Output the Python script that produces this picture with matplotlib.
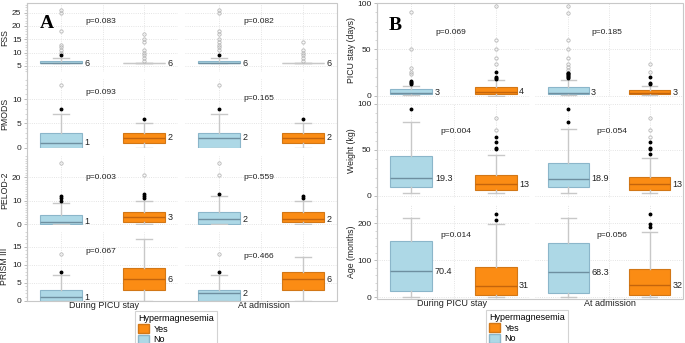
import numpy as np
import matplotlib
matplotlib.use('Agg')
import matplotlib.pyplot as plt
from matplotlib.patches import Patch, Rectangle
from matplotlib.ticker import MultipleLocator

plt.rcParams['font.family'] = ['Liberation Sans', 'DejaVu Sans']

groups = ['During PICU stay', 'At admission']
legend_labels = ['Yes', 'No']

# order of boxes in every row: stay/No, stay/Yes, admission/No, admission/Yes
# each box: (whislo, q1, med, q3, whishi)
fss_box = [(6, 6, 6, 7, 8), (6, 6, 6, 6, 6), (6, 6, 6, 7, 8), (6, 6, 6, 6, 6)]
fss_near = [[9], [], [9], []]
fss_far = [[10, 11, 12, 13, 18, 25, 26], [7, 8, 9, 10, 11, 14, 15, 17],
           [11, 12, 13, 14, 15, 17, 18, 25, 26], [7, 8, 9, 10, 11, 14]]
fss_lbl = ['6', '6', '6', '6']
fss_p = ['p=0.083', 'p=0.082']

pmods_box = [(0, 0, 1, 3, 7), (0, 1, 2, 3, 5), (0, 0, 2, 3, 7), (0, 1, 2, 3, 5)]
pmods_near = [[8], [6], [8], [6]]
pmods_far = [[13], [], [13], []]
pmods_lbl = ['1', '2', '2', '2']
pmods_p = ['p=0.093', 'p=0.165']

pelod_box = [(0, 0, 1, 4, 9), (0, 1, 3, 5, 10), (0, 0, 2, 5, 12), (0, 1, 2, 5, 10)]
pelod_near = [[10, 11, 12], [11, 12, 13], [13], [11, 12]]
pelod_far = [[26], [21], [21, 26], []]
pelod_lbl = ['1', '3', '2', '2']
pelod_p = ['p=0.003', 'p=0.559']

prism_box = [(0, 0, 1, 3, 7), (0, 3, 6, 9, 17), (0, 0, 2, 3, 7), (0, 3, 6, 8, 12)]
prism_near = [[8], [], [8], []]
prism_far = [[13], [], [13], []]
prism_lbl = ['1', '6', '2', '6']
prism_p = ['p=0.067', 'p=0.466']

stay_box = [(1, 2, 3, 7, 11), (0, 2, 4, 9, 17), (1, 2, 3, 9, 17), (1, 2, 3, 6, 10)]
stay_near = [[13, 14, 15, 16], [18, 19, 20, 26], [19, 20, 21, 22, 23, 24, 25], [13, 14, 20]]
stay_far = [[23, 26, 30, 50, 90], [34, 41, 50, 60, 97], [28, 31, 34, 41, 50, 60, 89, 97], [26, 34]]
stay_lbl = ['3', '4', '3', '3']
stay_p = ['p=0.069', 'p=0.185']

weight_box = [(3, 10, 19.3, 44, 80), (3, 7, 13, 22.5, 45), (3, 9.5, 18.9, 36, 73), (3, 7, 13, 21, 41)]
weight_near = [[95], [51, 52, 59, 64], [80, 95], [46, 51, 52, 59]]
weight_far = [[], [72, 85], [], [64, 72, 85]]
weight_lbl = ['19.3', '13', '18.9', '13']
weight_p = ['p=0.004', 'p=0.054']

age_box = [(2, 18, 70.4, 153, 214), (2, 6, 31, 83, 198), (2, 12, 68.3, 148, 214), (2, 6, 32, 76, 177)]
age_near = [[], [209, 225], [], [190, 197, 225]]
age_far = [[], [], [], []]
age_lbl = ['70.4', '31', '68.3', '32']
age_p = ['p=0.014', 'p=0.056']

W, H = 685, 343
fig = plt.figure(figsize=(W / 100, H / 100), dpi=100)
FS = 6

blue = '#add8e6'
orange = '#fb8c14'
blue_edge = '#8bb6ca'
orange_edge = '#d27716'
blue_med = '#6e8fa0'
orange_med = '#c4640c'
grey = '#c8c8c8'
txt = '#222222'


def px_axes(x0, x1, y0, y1):
    return fig.add_axes([x0 / W, 1 - y1 / H, (x1 - x0) / W, (y1 - y0) / H])


def draw_row(ax, boxes, near, far, lbls, idx, first_col, ylabel, ylim, major, minor, p, p_xy, lab_x):
    stats = []
    for b in boxes:
        stats.append(dict(whislo=b[0], q1=b[1], med=b[2], q3=b[3], whishi=b[4], fliers=[]))
    res = ax.bxp(stats, positions=[0, 1], widths=0.5, patch_artist=True, showfliers=False,
                 manage_ticks=False, capwidths=0.19,
                 whiskerprops=dict(color=grey, lw=1), capprops=dict(color=grey, lw=1))
    for k, box in enumerate(res['boxes']):
        face, edge, med = (blue, blue_edge, blue_med) if k == 0 else (orange, orange_edge, orange_med)
        if boxes[k][1] == boxes[k][3]:
            edge, med = grey, grey
        box.set_facecolor(face)
        box.set_edgecolor(edge)
        box.set_linewidth(0.8)
        res['medians'][k].set_color(med)
        res['medians'][k].set_linewidth(1)
    for k in range(2):
        if len(far[idx + k]):
            ax.plot(np.full(len(far[idx + k]), k), far[idx + k], 'o', ms=2.4, mfc='none',
                    mec='#b5b5b5', mew=0.6, zorder=3)
        if len(near[idx + k]):
            ax.plot(np.full(len(near[idx + k]), k), near[idx + k], 'o', ms=1.8, color='black', zorder=3)
        ax.text(k + 0.28, boxes[k][2], lbls[idx + k], ha='left', va='center', fontsize=FS + 0.5, color=txt)
    ax.text(p_xy[0], p_xy[1], p, ha='left', va='center', fontsize=FS, color=txt)

    ax.set_xlim(-0.41, 1.41)
    ax.set_ylim(*ylim)
    ax.yaxis.set_major_locator(MultipleLocator(major))
    ax.yaxis.set_minor_locator(MultipleLocator(minor))
    ax.set_xticks([])
    ax.set_axisbelow(True)
    ax.yaxis.grid(True, ls=':', color='#dcdcdc', lw=0.6)
    for xv in [0, 0.5, 1]:
        ax.axvline(xv, ls=':', color='#dcdcdc', lw=0.6, zorder=0)
    for s in ['top', 'right', 'bottom']:
        ax.spines[s].set_visible(False)
    if first_col:
        ax.spines['left'].set_color('#c8c8c8')
        ax.spines['left'].set_linewidth(0.8)
        ax.tick_params(axis='y', which='major', length=2.5, width=0.6, color='#b0b0b0',
                       labelsize=FS, labelcolor=txt, pad=1.5)
        ax.tick_params(axis='y', which='minor', length=1.3, width=0.4, color='#b8b8b8')
        ax.set_ylabel(ylabel, fontsize=FS + 0.3, color=txt, va='center')
        ax.yaxis.set_label_coords(lab_x, 0.5)
    else:
        ax.spines['left'].set_visible(False)
        ax.tick_params(axis='y', which='both', left=False, labelleft=False)


# panel A
cols_a = [(27, 178), (185, 337)]
rows_a = [(3, 72.25), (79.25, 148.5), (155.5, 224.75), (231.75, 301)]
spec_a = [
    (fss_box, fss_near, fss_far, fss_lbl, 'FSS', (2.65, 28.6), 5, 1, fss_p, [21.7, 21.7]),
    (pmods_box, pmods_near, pmods_far, pmods_lbl, 'PMODS', (-0.17, 14.1), 5, 1, pmods_p, [11.4, 10.2]),
    (pelod_box, pelod_near, pelod_far, pelod_lbl, 'PELOD-2', (-0.3, 29.3), 10, 1, pelod_p, [20, 20]),
    (prism_box, prism_near, prism_far, prism_lbl, 'PRISM III', (-0.1, 19.15), 5, 1, prism_p, [13.6, 12.3]),
]
for (y0, y1), sp in zip(rows_a, spec_a):
    for c, (x0, x1) in enumerate(cols_a):
        ax = px_axes(x0, x1, y0, y1)
        draw_row(ax, sp[0][2 * c:2 * c + 2], sp[1], sp[2], sp[3], 2 * c, c == 0, sp[4], sp[5],
                 sp[6], sp[7], sp[8][c], (0.29, sp[9][c]), (5 - x0) / (x1 - x0))

# panel B
cols_b = [(377, 530), (535, 683)]
rows_b = [(3, 97), (104, 198), (205, 299)]
spec_b = [
    (stay_box, stay_near, stay_far, stay_lbl, 'PICU stay (days)', (-1.4, 100), 50, 10, stay_p, [68.5, 68.5], 0.28),
    (weight_box, weight_near, weight_far, weight_lbl, 'Weight (kg)', (-2.2, 100), 50, 10, weight_p, [69.6, 69.6], 0.35),
    (age_box, age_near, age_far, age_lbl, 'Age (months)', (-4.6, 249.5), 100, 20, age_p, [166, 166], 0.35),
]
for (y0, y1), sp in zip(rows_b, spec_b):
    for c, (x0, x1) in enumerate(cols_b):
        ax = px_axes(x0, x1, y0, y1)
        draw_row(ax, sp[0][2 * c:2 * c + 2], sp[1], sp[2], sp[3], 2 * c, c == 0, sp[4], sp[5],
                 sp[6], sp[7], sp[8][c], (sp[10], sp[9][c]), (351 - x0) / (x1 - x0))

# outer frames
for x0, x1, y0, y1 in [(27, 337, 3, 301), (377, 683, 3, 299)]:
    fig.add_artist(Rectangle((x0 / W, 1 - y1 / H), (x1 - x0) / W, (y1 - y0) / H,
                             transform=fig.transFigure, fill=False, ec='#c8c8c8', lw=0.8))

# panel letters
fig.text(46.5 / W, 1 - 24 / H, 'A', family='Liberation Serif', weight='bold', fontsize=14,
         ha='center', va='center')
fig.text(395 / W, 1 - 25 / H, 'B', family='Liberation Serif', weight='bold', fontsize=14,
         ha='center', va='center')

# column labels
for xc, yc, g in [(104, 306, groups[0]), (264, 306, groups[1]), (452, 304, groups[0]), (610, 304, groups[1])]:
    fig.text(xc / W, 1 - yc / H, g, ha='center', va='center', fontsize=FS + 0.5, color=txt)

handles = [Patch(facecolor=orange, edgecolor=orange_edge), Patch(facecolor=blue, edgecolor=blue_edge)]
for lx, ly in [(135, 311), (486, 310)]:
    leg = fig.legend(handles, legend_labels, title='Hypermagnesemia', loc='upper left',
                     bbox_to_anchor=(lx / W, 1 - ly / H), fontsize=FS + 0.5, title_fontsize=FS + 0.5,
                     handlelength=1.2, handleheight=1.2, handletextpad=0.5, labelspacing=0.1,
                     borderpad=0.35, fancybox=False, alignment='left', borderaxespad=0)
    leg.get_frame().set_edgecolor('#c8c8c8')
    leg.get_frame().set_linewidth(0.8)

fig.savefig('out.png', dpi=100)
